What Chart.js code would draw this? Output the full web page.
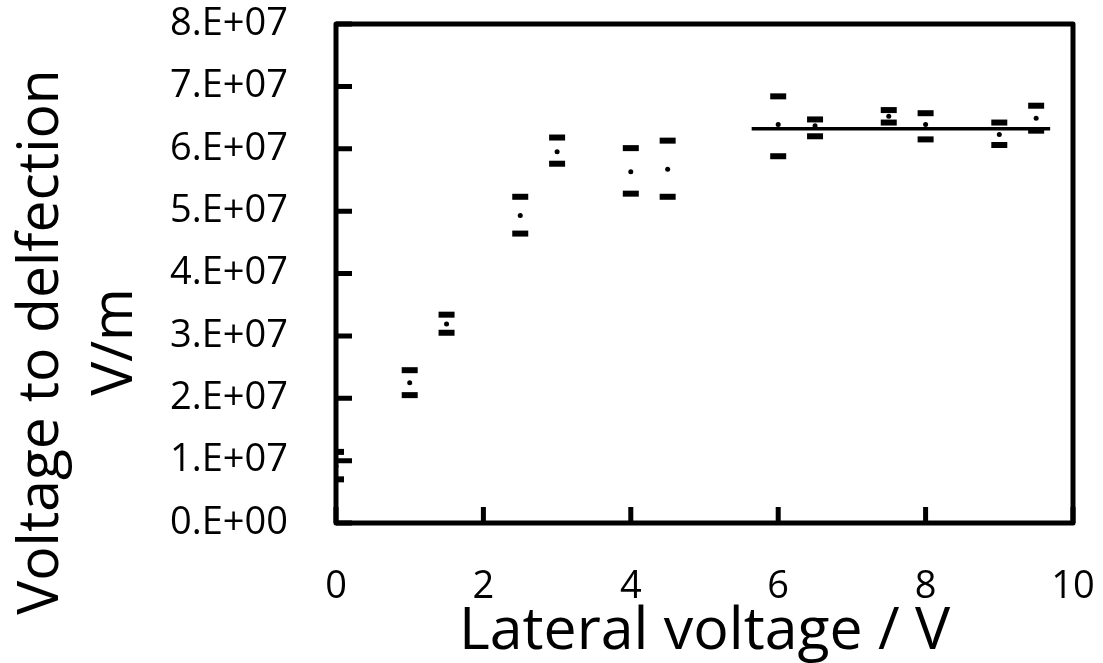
<!DOCTYPE html>
<html>
<head>
<meta charset="utf-8">
<script src="https://cdn.jsdelivr.net/npm/chart.js@4.4.1/dist/chart.umd.min.js"></script>
<style>
  html, body { margin: 0; padding: 0; background: #fff; }
  #wrap { width: 1103px; height: 663px; }
</style>
</head>
<body>
<div id="wrap"><canvas id="miGrafico" width="1103" height="663"></canvas></div>
<script>
// lateral voltage (V)
const xValues = [0, 1, 1.5, 2.5, 3, 4, 4.5, 6, 6.5, 7.5, 8, 9, 9.5];
// voltage to deflection, V/m
const meanValues = [0.91e7, 2.25e7, 3.19e7, 4.93e7, 5.95e7, 5.63e7, 5.67e7, 6.39e7, 6.37e7, 6.52e7, 6.39e7, 6.23e7, 6.49e7];
const upperValues = [1.14e7, 2.45e7, 3.34e7, 5.23e7, 6.18e7, 6.01e7, 6.13e7, 6.84e7, 6.47e7, 6.62e7, 6.57e7, 6.42e7, 6.69e7];
const lowerValues = [0.70e7, 2.05e7, 3.05e7, 4.64e7, 5.76e7, 5.28e7, 5.23e7, 5.88e7, 6.20e7, 6.42e7, 6.15e7, 6.06e7, 6.29e7];
// plateau line
const fitX = [5.64, 9.69];
const fitY = [6.32e7, 6.32e7];

const yTickLabels = ['0.E+00', '1.E+07', '2.E+07', '3.E+07', '4.E+07', '5.E+07', '6.E+07', '7.E+07', '8.E+07'];
const yTitleLines = ['Voltage to delfection', 'V/m'];

const FONT = "'Open Sans', sans-serif";

function pts(xs, ys) {
  return xs.map((x, i) => ({ x: x, y: ys[i] }));
}

// box round the plot, inward ticks, and the y title
const framePlugin = {
  id: 'frame',
  afterDraw(chart) {
    const ctx = chart.ctx;
    const a = chart.chartArea;
    const xs = chart.scales.x, ys = chart.scales.y;
    ctx.save();
    ctx.strokeStyle = '#000';
    ctx.lineWidth = 5;
    ctx.lineJoin = 'round';
    ctx.strokeRect(a.left, a.top, a.right - a.left, a.bottom - a.top);
    ctx.beginPath();
    ys.ticks.forEach((t, i) => {
      const y = ys.getPixelForTick(i);
      ctx.moveTo(a.left, y);
      ctx.lineTo(a.left + 16, y);
    });
    xs.ticks.forEach((t, i) => {
      const x = xs.getPixelForTick(i);
      ctx.moveTo(x, a.bottom);
      ctx.lineTo(x, a.bottom - 16);
    });
    ctx.stroke();

    ctx.fillStyle = '#000';
    ctx.font = "57px " + FONT;
    ctx.textAlign = 'center';
    ctx.textBaseline = 'alphabetic';
    const baseX = [58, 132];
    yTitleLines.forEach((txt, i) => {
      ctx.save();
      ctx.translate(baseX[i], 342);
      ctx.rotate(-Math.PI / 2);
      ctx.fillText(txt, 0, 0);
      ctx.restore();
    });
    ctx.restore();
  }
};

const capStyle = {
  pointStyle: 'line',
  pointRadius: 8,
  pointHoverRadius: 8,
  pointBorderWidth: 6,
  borderColor: '#000',
  backgroundColor: '#000',
  showLine: false
};

let grafica = new Chart(document.getElementById('miGrafico'), {
  type: 'scatter',
  data: {
    datasets: [
      {
        label: 'fit',
        type: 'line',
        data: pts(fitX, fitY),
        borderColor: '#000',
        borderWidth: 3.5,
        pointRadius: 0,
        fill: false
      },
      Object.assign({ label: 'upper', data: pts(xValues, upperValues) }, capStyle),
      Object.assign({ label: 'lower', data: pts(xValues, lowerValues) }, capStyle),
      {
        label: 'mean',
        data: pts(xValues, meanValues),
        pointStyle: 'circle',
        pointRadius: 2.5,
        borderColor: '#000',
        backgroundColor: '#000',
        borderWidth: 0
      }
    ]
  },
  plugins: [framePlugin],
  options: {
    responsive: false,
    animation: false,
    layout: { padding: { top: 24, right: 30, bottom: 0, left: 0 } },
    plugins: {
      legend: { display: false },
      tooltip: { enabled: false }
    },
    scales: {
      x: {
        type: 'linear',
        min: 0,
        max: 10,
        ticks: {
          stepSize: 2,
          color: '#000',
          font: { family: FONT, size: 38 },
          padding: 41,
          maxRotation: 0
        },
        grid: { display: false, drawTicks: false },
        border: { display: false },
        title: {
          display: true,
          text: 'Lateral voltage / V',
          color: '#000',
          font: { family: FONT, size: 59, lineHeight: 1 },
          padding: { top: 0, bottom: 1 }
        },
        afterFit(scale) {
          scale.height = 140;
          scale.paddingLeft = 0;
          scale.paddingRight = 0;
        }
      },
      y: {
        type: 'linear',
        min: 0,
        max: 8e7,
        ticks: {
          stepSize: 1e7,
          color: '#000',
          font: { family: FONT, size: 38 },
          padding: 48,
          callback: (v, i) => yTickLabels[i]
        },
        grid: { display: false, drawTicks: false },
        border: { display: false },
        afterFit(scale) {
          scale.width = 336;
          scale.paddingTop = 0;
          scale.paddingBottom = 0;
        }
      }
    }
  }
});
</script>
</body>
</html>
